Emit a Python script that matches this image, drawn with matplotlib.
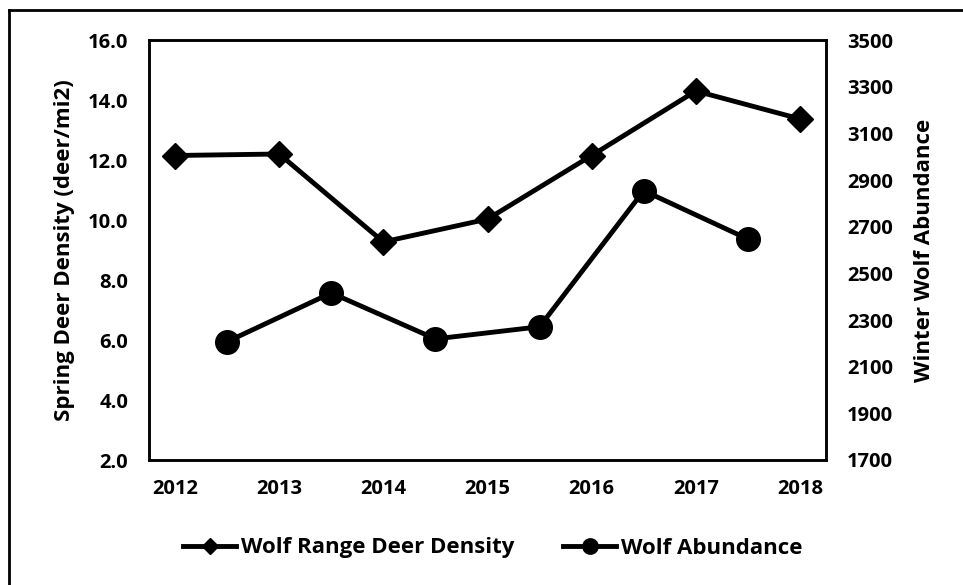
import matplotlib.pyplot as plt
from matplotlib.lines import Line2D

# Data
years = [2012, 2013, 2014, 2015, 2016, 2017, 2018]
deer_density = [12.15, 12.2, 9.27, 10.03, 12.15, 14.3, 13.37]

wolf_years = [2012.5, 2013.5, 2014.5, 2015.5, 2016.5, 2017.5]
wolf_abundance = [2207, 2416, 2219, 2271, 2854, 2647]

plt.rcParams['font.family'] = ['Open Sans', 'DejaVu Sans']
plt.rcParams['font.weight'] = 'bold'

fig = plt.figure(figsize=(9.63, 5.85), dpi=100)
W, H = 963, 585
ax = fig.add_axes([149 / W, 1 - 460 / H, (826 - 149) / W, (460 - 40) / H])
ax2 = ax.twinx()

l1, = ax.plot(years, deer_density, color='black', lw=3.5, marker='D', ms=13,
              label='Wolf Range Deer Density')
l2, = ax2.plot(wolf_years, wolf_abundance, color='black', lw=3.5, marker='o', ms=17,
               label='Wolf Abundance')

ax.set_xlim(2011.75, 2018.25)
ax.set_ylim(2, 16)
ax.set_yticks(range(2, 17, 2))
ax.set_yticklabels([f'{v:.1f}' for v in range(2, 17, 2)])
ax2.set_ylim(1700, 3500)
ax2.set_yticks(range(1700, 3501, 200))
ax.set_xticks(years)

for a in (ax, ax2):
    a.tick_params(length=0, labelsize=14.5)
    for s in a.spines.values():
        s.set_linewidth(1.8)
ax.tick_params(axis='x', pad=14)
ax.tick_params(axis='y', pad=15)
ax2.tick_params(axis='y', pad=15)

ax.set_ylabel('Spring Deer Density (deer/mi2)', fontsize=16, fontweight='bold', labelpad=9)
ax2.set_ylabel('Winter Wolf Abundance', fontsize=16, fontweight='bold', labelpad=15)

leg = fig.legend(handles=[l1, l2], loc='center', bbox_to_anchor=(0.5 + 11 / W, 1 - 548 / H),
                 ncol=2, frameon=False, fontsize=16, markerscale=0.65,
                 handlelength=2.4, columnspacing=2.2, handletextpad=0.2)

# outer chart border (cropped on the right and bottom)
fig.add_artist(Line2D([9 / W, 1.0], [1 - 10 / H, 1 - 10 / H], color='black', lw=2))
fig.add_artist(Line2D([9 / W, 9 / W], [0.0, 1 - 10 / H], color='black', lw=2))

fig.savefig('out.png', dpi=100)
